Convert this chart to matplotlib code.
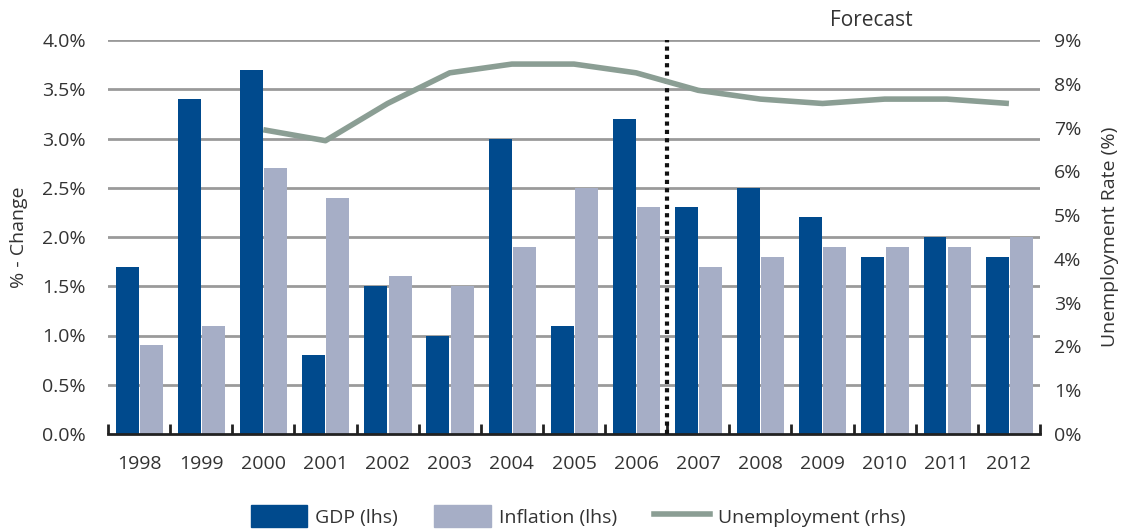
import matplotlib
matplotlib.use("Agg")
import matplotlib.pyplot as plt
import numpy as np
from matplotlib.patches import Patch
from matplotlib.lines import Line2D

years = ["1998", "1999", "2000", "2001", "2002", "2003", "2004", "2005",
         "2006", "2007", "2008", "2009", "2010", "2011", "2012"]
gdp = [1.7, 3.4, 3.7, 0.8, 1.5, 1.0, 3.0, 1.1, 3.2, 2.3, 2.5, 2.2, 1.8, 2.0, 1.8]
inflation = [0.9, 1.1, 2.7, 2.4, 1.6, 1.5, 1.9, 2.5, 2.3, 1.7, 1.8, 1.9, 1.9, 1.9, 2.0]
unemp_years = years[2:]
unemployment = [6.95, 6.7, 7.55, 8.25, 8.45, 8.45, 8.25, 7.85, 7.65, 7.55, 7.65, 7.65, 7.55]

left_ticks = [0.0, 0.5, 1.0, 1.5, 2.0, 2.5, 3.0, 3.5, 4.0]
right_ticks = [0, 1, 2, 3, 4, 5, 6, 7, 8, 9]

c_gdp = "#004a8d"
c_inf = "#a6aec6"
c_une = "#8b9e94"
c_txt = "#333333"
fs = 14

plt.rcParams['font.family'] = ['Open Sans', 'DejaVu Sans']

fig = plt.figure(figsize=(11.31, 5.31), dpi=100)
ax = fig.add_axes([108/1131, 1-434/531, (1040-108)/1131, (434-40)/531])

x = np.arange(len(years))
w = 0.37
ax.bar(x - 0.19, gdp, width=w, color=c_gdp, zorder=3)
ax.bar(x + 0.2, inflation, width=w, color=c_inf, zorder=3)

ax.set_xlim(-0.5, len(years) - 0.5)
ax.set_ylim(0, 4.0)
ax.set_yticks(left_ticks)
ax.set_yticklabels([f"{t:.1f}%" for t in left_ticks])
for t in left_ticks[1:]:
    ax.axhline(t, color="#9a9a9a", lw=2, zorder=1)

ax.set_xticks(x)
ax.set_xticklabels(years)
ax.set_xticks(np.arange(-0.5, len(years)), minor=True)
ax.tick_params(axis='x', which='major', length=0, pad=15, labelsize=fs, colors=c_txt)
ax.tick_params(axis='x', which='minor', direction='in', length=7, width=2, color="#222222")
ax.tick_params(axis='y', length=0, pad=16, labelsize=fs, colors=c_txt)
for s in ['left', 'right', 'top']:
    ax.spines[s].set_visible(False)
ax.spines['bottom'].set_color("#222222")
ax.spines['bottom'].set_linewidth(2)
ax.spines['bottom'].set_zorder(5)
ax.set_ylabel("% - Change", fontsize=fs, color=c_txt, labelpad=10)

ax.axvline(8.5, color="#111111", lw=3, linestyle=(0, (1, 1)), zorder=6)

ax2 = ax.twinx()
ax2.set_ylim(0, 9)
ax2.set_yticks(right_ticks)
ax2.set_yticklabels([f"{t}%" for t in right_ticks])
ax2.tick_params(axis='y', length=0, pad=10, labelsize=fs, colors=c_txt)
for s in ['left', 'right', 'top', 'bottom']:
    ax2.spines[s].set_visible(False)
ux = [years.index(y) for y in unemp_years]
ax2.plot(ux, unemployment, color=c_une, lw=4, zorder=4, solid_capstyle='butt')
ax2.set_ylabel("Unemployment Rate (%)", fontsize=fs, color=c_txt, labelpad=14)

fig.text(871/1131, 1-21/531, "Forecast", ha='center', va='center', fontsize=15, color=c_txt)

handles = [Patch(color=c_gdp), Patch(color=c_inf), Line2D([], [], color=c_une, lw=4)]
fig.legend(handles, ["GDP (lhs)", "Inflation (lhs)", "Unemployment (rhs)"],
           loc='center', bbox_to_anchor=(578/1131, 1-516/531), ncol=3, frameon=False,
           fontsize=fs, handlelength=2.9, handleheight=1.3, columnspacing=1.9,
           handletextpad=0.4, labelcolor=c_txt)

fig.savefig("out.png", dpi=100)
